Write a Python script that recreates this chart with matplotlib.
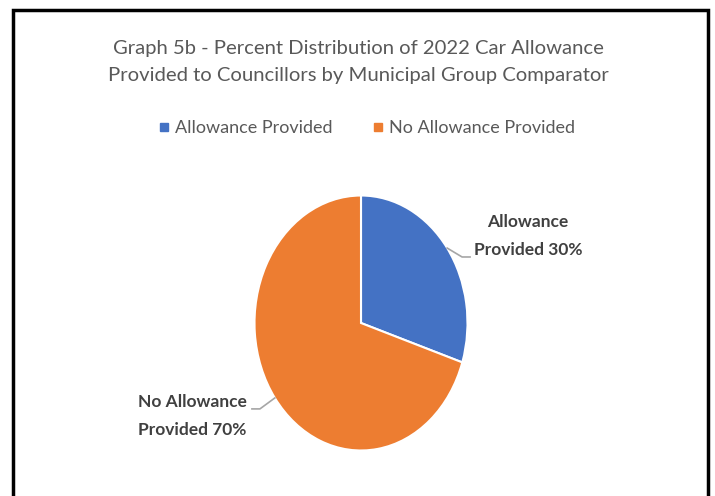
import numpy as np
import matplotlib.pyplot as plt
from matplotlib.lines import Line2D
from matplotlib.patches import Rectangle

categories = ["Allowance Provided", "No Allowance Provided"]
shares = [30, 70]
colors = ["#4472C4", "#ED7D31"]
slice_labels = ["Allowance\nProvided 30%", "No Allowance\nProvided 70%"]

title = ("Graph 5b - Percent Distribution of 2022 Car Allowance\n"
         "Provided to Councillors by Municipal Group Comparator")

plt.rcParams['font.family'] = ['Lato', 'DejaVu Sans']

fig = plt.figure(figsize=(7.15, 4.96), dpi=100)
fig.patch.set_facecolor("white")

# frame around the chart area
fig.patches.append(Rectangle((13 / 715, -0.05), 695 / 715, 1.05 - 10 / 496,
                             transform=fig.transFigure, fill=False,
                             edgecolor="black", linewidth=2.5, clip_on=False))

fig.text(0.501, 1 - 62 / 496, title, ha="center", va="center",
         fontsize=14.6, color="#595959", linespacing=1.78)

# pie drawn in its own axes, stretched vertically
ax = fig.add_axes([(361 - 106.5) / 715, (496 - 323 - 127.5) / 496,
                   213 / 715, 255 / 496])
wedges, _ = ax.pie(shares, colors=colors, startangle=90, counterclock=False,
                   wedgeprops=dict(edgecolor="white", linewidth=1.5))
ax.set_aspect("auto")
ax.set_xlim(-1, 1)
ax.set_ylim(-1, 1)
ax.axis("off")

# leader lines + labels
text_pos = [(1.568, 0.68), (-1.587, -0.73)]
angle = 90.0
for share, label, (tx, ty) in zip(shares, slice_labels, text_pos):
    mid = angle - share / 100 * 360 / 2
    angle -= share / 100 * 360
    ex, ey = np.cos(np.radians(mid)), np.sin(np.radians(mid))
    side = 1 if ex > 0 else -1
    kx = ex + side * 0.14
    ky = ey - 0.07 if side > 0 else ey - 0.086
    hx = kx + side * 0.075
    ax.plot([ex, kx, hx], [ey, ky, ky], color="#A6A6A6", lw=1.2,
            clip_on=False)
    ax.text(tx, ty, label, ha="center", va="center", fontsize=12.5,
            fontweight="bold", color="#404040", linespacing=1.9)

handles = [Line2D([], [], marker="s", linestyle="none", markersize=6,
                  markerfacecolor=c, markeredgecolor=c) for c in colors]
fig.legend(handles, categories, loc="center", ncol=2,
           bbox_to_anchor=(365 / 715, 1 - 128 / 496), frameon=False,
           fontsize=13, labelcolor="#595959", handletextpad=0.1,
           columnspacing=2.0, handlelength=1.0)

fig.savefig("out.png", dpi=100)
